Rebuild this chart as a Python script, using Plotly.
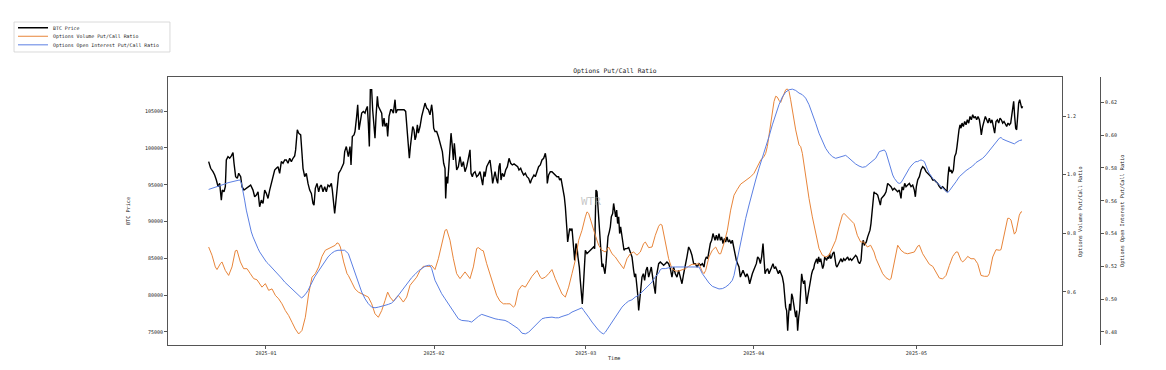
import pandas as pd
import plotly.graph_objects as go

BASE_DATE = pd.Timestamp("2025-01-01")

# ---- BTC price (days since 2025-01-01, USD) ----
btc_day = [-10.58,-10.21,-9.78,-9.47,-9.16,-8.85,-8.55,-8.24,-8.06,-7.75,-7.50,-7.32,-7.01,-6.70,-6.39,-6.09,-5.90,-5.60,-5.29,-5.04,-4.67,-4.43,-4.06,-3.63,-3.20,-2.83,-2.40,-2.09,-1.78,-1.47,-1.17,-0.86,-0.55,-0.24,0.06,0.37,0.68,0.99,1.29,1.60,1.91,2.22,2.52,2.83,3.14,3.45,3.75,4.06,4.37,4.68,4.98,5.29,5.47,5.78,6.03,6.40,6.64,6.83,7.14,7.44,7.75,8.06,8.37,8.67,8.86,9.10,9.41,9.72,9.96,10.21,10.52,10.83,11.13,11.44,11.75,12.06,12.24,12.49,12.67,12.86,13.10,13.41,13.78,14.02,14.33,14.52,14.82,
15.19,15.50,15.69,15.93,16.24,16.42,16.73,16.92,17.16,17.35,17.66,17.96,18.27,18.45,18.70,18.88,19.07,19.25,19.50,19.68,19.87,20.11,20.30,20.55,20.73,21.04,21.35,21.53,21.78,21.96,22.27,22.45,22.70,23.01,23.19,23.50,23.81,23.99,24.24,24.54,24.85,25.16,25.47,25.77,26.02,26.27,26.45,26.64,26.88,27.07,27.31,27.50,27.68,27.93,28.11,28.42,28.73,29.03,29.34,29.65,29.96,30.26,30.57,30.75,30.94,31.18,31.49,31.80,32.11,32.29,32.54,32.78,33.03,33.15,33.34,33.52,33.77,33.95,34.14,34.38,34.57,34.75,35.00,35.18,35.49,35.80,36.11,36.41,36.72,37.03,37.34,37.64,37.83,38.07,38.26,38.57,38.87,39.18,39.49,39.80,39.98,40.23,40.41,40.72,41.03,41.33,41.64,41.82,42.07,42.26,42.56,42.75,42.99,43.18,43.36,43.61,43.92,44.22,44.53,44.84,45.15,45.45,45.76,46.07,46.44,46.68,46.99,
47.23,47.54,47.85,48.15,48.46,48.77,48.95,49.20,49.44,49.69,50.00,50.30,50.61,50.92,51.23,51.54,51.72,51.90,52.15,52.46,52.76,53.07,53.38,53.69,53.99,54.18,54.43,54.61,54.80,55.04,55.23,55.41,55.53,55.66,55.84,56.03,56.27,56.46,56.64,56.82,56.95,57.19,57.38,57.56,57.81,57.99,58.18,58.36,58.55,58.73,58.92,59.22,59.53,59.84,60.15,60.45,60.64,60.76,60.88,61.07,61.25,61.44,61.62,61.81,61.99,62.17,62.36,62.54,62.73,62.91,63.10,63.34,63.53,63.71,63.96,64.14,64.33,64.51,64.70,64.88,65.07,65.25,65.43,65.68,65.86,66.05,66.30,66.60,66.91,67.09,67.28,67.53,67.83,68.02,68.20,68.39,68.57,68.76,68.94,69.12,69.37,69.62,69.86,70.11,70.35,70.60,70.85,71.09,71.34,71.58,71.83,72.01,72.20,72.45,72.75,73.06,73.37,73.67,73.98,74.29,74.60,74.90,75.21,75.52,75.83,76.13,76.44,76.75,77.06,77.36,77.67,77.98,78.29,78.59,78.90,79.21,79.52,
79.89,80.20,80.51,80.81,81.00,81.24,81.49,81.73,81.98,82.23,82.47,82.66,82.84,83.09,83.33,83.58,83.83,84.07,84.32,84.56,84.81,85.06,85.30,85.55,85.79,86.04,86.29,86.53,86.78,87.02,87.27,87.52,87.76,88.01,88.25,88.50,88.75,88.99,89.24,89.48,89.73,89.98,90.22,90.47,90.71,90.96,91.21,91.45,91.70,91.88,92.07,92.31,92.56,92.81,93.05,93.30,93.54,93.79,94.04,94.28,94.53,94.77,95.02,95.27,95.51,95.70,95.88,96.06,96.25,96.43,96.62,96.80,96.99,97.17,97.36,97.54,97.73,97.91,98.09,98.28,98.46,98.65,98.83,99.02,99.20,99.39,99.57,99.75,99.94,100.12,100.31,100.49,100.68,100.86,101.05,101.23,101.42,101.60,101.78,101.97,102.15,102.34,102.52,102.71,102.89,103.08,103.26,103.44,103.63,103.81,104.00,104.18,104.37,104.55,104.80,104.98,105.17,105.35,105.60,105.84,106.09,106.33,106.58,106.83,107.07,107.32,107.56,107.81,108.06,108.30,108.55,108.79,109.04,109.29,109.53,109.78,110.02,110.21,110.39,110.58,110.76,111.01,111.25,111.44,111.62,111.81,111.99,112.18,112.36,
112.55,112.86,113.17,113.35,113.53,113.78,114.09,114.40,114.70,115.01,115.32,115.63,115.93,116.24,116.55,116.86,117.16,117.35,117.59,117.84,118.09,118.39,118.70,119.01,119.32,119.62,119.81,119.99,120.24,120.55,120.85,121.16,121.47,121.78,122.08,122.39,122.70,123.01,123.31,123.62,123.93,124.24,124.54,124.85,125.16,125.47,125.65,125.83,126.02,126.20,126.39,126.57,126.82,127.06,127.31,127.49,127.68,127.86,128.05,128.23,128.42,128.66,128.91,129.16,129.40,129.65,129.89,130.14,130.39,130.63,130.88,131.12,131.37,131.62,131.80,131.98,132.23,132.48,132.72,132.97,133.21,133.46,133.71,133.95,134.20,134.44,134.69,134.94,135.18,135.43,135.67,135.92,136.17,136.41,136.66,136.90,137.15,137.40,137.58,137.77,137.95,138.13,138.32,138.50,138.69,138.87,139.06,139.24,139.43,139.61]

btc_price = [98150,97240,96780,96330,95650,94740,95190,92920,94280,94050,94740,98370,98830,98600,98920,99370,97920,96100,95870,96560,96100,94740,94280,94510,94740,94960,94280,93370,93600,94050,92010,92920,92460,94280,93830,93140,94280,95190,96100,97010,97240,97460,96560,98150,97920,98370,98370,97920,98600,98150,98600,98920,99740,102470,102010,101780,99280,97240,96100,96560,95190,94280,93830,92460,92240,94510,95190,94050,94740,94960,94050,94740,94050,94960,94740,95190,94280,91780,91100,92460,94740,96560,97010,97460,97920,99510,100190,
98830,100190,97690,101560,101780,102240,104290,105880,102470,103150,104740,104970,104740,105190,105650,103380,100190,107920,107920,105190,103830,101330,104290,107010,105650,105190,104740,102920,104060,102920,103380,101560,104290,105190,105190,104740,106560,104740,105190,105190,105190,105190,105190,104970,102920,100650,98600,100190,101560,102920,102470,101100,101560,103150,102010,102920,104290,105190,106100,105420,105190,104510,105880,104740,102690,102240,102240,101560,100650,99970,99510,97920,97240,93140,96100,95190,97460,99740,102010,100190,98370,100650,98600,97010,97460,98830,97460,98150,96780,97460,98600,99740,96560,96100,96560,96780,96100,96330,96780,95650,94960,96780,96100,97460,97920,98370,96560,95190,96100,96780,95650,95190,97460,97920,95650,96560,96100,97010,97460,98600,97920,97690,97830,97690,97460,97010,97240,
96780,96330,96560,96100,95870,95190,95650,96100,96330,96100,96780,97460,97690,98370,98600,99280,98370,95190,96330,96780,96780,96560,96330,96100,96100,95650,95870,95190,94510,93370,92010,90640,88830,87230,88600,89050,88830,89050,87460,85190,84730,87010,86550,85190,83820,82000,80640,78820,81100,84730,86100,85640,85870,86100,86320,86550,86320,91550,94280,94050,92010,90640,88830,85640,83820,84280,83370,82910,84280,86100,87920,88600,89280,90640,91100,92460,91550,90640,91550,89730,90640,88370,89280,87920,86780,86100,86320,86320,86460,86100,85640,85190,83370,82460,82910,81550,80190,77910,79280,80640,82460,82910,82000,83370,83820,82460,83370,83820,82460,81550,80190,82460,83370,84280,84510,84280,84050,84280,84510,84280,83600,82460,83820,82910,82460,83370,82460,81550,82910,83820,85190,86550,86100,85420,84280,84280,83820,
84280,84050,84280,83820,84730,85190,84960,86100,87010,87460,88370,87920,87460,88140,87460,88370,87460,87920,87010,87690,87230,87920,87230,87460,87010,87460,86550,85190,84730,84280,83820,82460,82910,83370,82910,82460,82910,82460,81550,82460,82910,83370,83820,84280,85190,84960,84280,85190,87010,85190,82910,83370,83600,82910,83370,83820,84280,83600,83820,83370,82910,83370,82910,82460,81550,79730,78370,77910,75180,77460,78820,77910,80190,79730,78820,77910,77000,77910,75180,77000,77910,80640,82910,82000,81550,82000,80640,78820,79730,80640,81550,82460,82910,83370,83600,84280,84730,84960,84280,85190,84510,84960,84280,83600,84050,85190,84960,84730,85190,84960,85640,84960,85190,85640,85870,84730,84050,83820,84280,84730,84960,84510,84960,84730,84960,85190,84730,84960,84730,84960,85190,85420,85190,84510,84280,84730,87010,87460,86780,87010,87230,87920,88370,88830,89730,91100,92460,94050,93830,
93830,93600,92920,92240,93140,93370,93600,94050,95190,94960,94740,94280,94510,94280,94050,94280,93140,94740,94280,95190,94740,94960,95190,94740,94960,94280,93370,94740,95650,96100,97010,97460,97240,96780,96560,96330,96100,95650,95650,95420,95190,94740,94510,94740,94510,94280,94050,96100,97460,96780,97010,96560,97010,98830,99280,100190,101560,102470,103150,102690,103380,102920,103600,103150,103830,103380,104290,103830,104510,104060,104290,103830,104290,103830,102920,101780,102920,103600,104290,103830,103380,104060,103380,103830,102920,102010,103600,103830,103380,104060,103830,103380,103600,103150,102920,103380,103150,103380,104290,105880,106330,104290,102690,102470,104510,106100,106560,105880,105420,105650]

# ---- Options volume put/call ratio ----
vol_day = [-10.58,-9.96,-9.35,-9.04,-8.42,-8.12,-7.50,-6.89,-6.27,-5.66,-5.35,-4.73,-4.12,-3.50,-2.89,-2.27,-1.66,-1.04,-0.74,-0.12,0.49,1.11,1.72,2.34,2.95,3.57,4.18,4.80,5.41,6.03,6.64,7.26,7.87,8.49,9.10,9.72,10.33,10.95,11.56,12.18,12.79,13.10,13.41,13.72,14.33,14.95,
15.19,15.81,16.42,17.04,17.66,18.27,18.88,19.50,20.11,20.73,21.35,21.96,22.45,22.88,23.50,24.11,24.42,25.34,25.96,26.57,27.19,27.80,28.42,29.03,29.65,30.26,30.57,31.18,31.80,32.41,33.03,33.34,33.95,34.57,35.18,35.80,36.41,36.72,37.64,38.26,38.87,39.18,39.80,40.10,40.72,41.33,41.95,42.56,43.18,43.79,44.41,45.02,45.64,45.95,46.56,
47.23,47.85,48.46,49.08,50.00,50.61,50.92,51.54,52.15,52.76,53.38,53.99,54.61,55.23,55.84,56.46,57.07,57.69,58.30,58.92,59.22,59.53,60.15,60.76,61.38,61.99,62.61,63.22,63.84,64.45,65.07,65.99,66.60,67.22,67.83,68.45,69.06,69.68,69.99,70.60,71.22,71.83,72.45,72.75,73.06,73.67,74.29,74.90,75.52,76.13,76.75,77.36,77.98,78.59,79.21,
79.89,80.51,80.81,81.12,81.73,82.35,82.97,83.58,83.89,84.50,85.12,85.73,86.35,86.96,87.58,88.19,88.81,89.42,90.04,90.65,91.27,91.88,92.19,92.50,92.81,93.11,93.42,93.73,94.04,94.34,94.65,94.96,95.27,95.57,95.88,96.19,96.50,96.80,97.11,97.73,98.34,98.65,98.96,99.57,100.19,100.80,101.42,102.03,102.65,103.26,103.88,104.49,105.11,105.72,106.34,106.64,107.26,107.87,108.49,109.10,109.72,110.33,110.95,111.56,112.18,
112.55,113.17,113.78,114.40,115.01,115.32,115.93,116.55,117.16,117.78,118.39,119.01,119.62,120.24,120.55,121.16,121.78,122.39,123.01,123.62,124.24,124.85,125.47,126.08,126.70,127.31,127.62,128.23,128.54,129.16,129.46,130.08,130.69,131.31,131.92,132.54,133.15,133.46,134.08,134.69,135.31,135.61,136.23,136.84,137.15,137.46,138.07,138.38,138.99,139.30,139.49]

vol_ratio = [0.753,0.725,0.685,0.676,0.696,0.702,0.673,0.656,0.685,0.740,0.742,0.702,0.679,0.679,0.662,0.645,0.641,0.622,0.616,0.628,0.605,0.610,0.588,0.576,0.559,0.536,0.519,0.496,0.473,0.456,0.468,0.513,0.593,0.650,0.662,0.685,0.721,0.742,0.748,0.753,0.759,0.767,0.765,0.753,0.702,0.662,
0.656,0.633,0.610,0.599,0.593,0.588,0.582,0.559,0.525,0.513,0.536,0.570,0.599,0.582,0.568,0.582,0.588,0.565,0.582,0.622,0.637,0.650,0.673,0.687,0.687,0.687,0.690,0.676,0.713,0.765,0.810,0.813,0.776,0.713,0.662,0.645,0.662,0.668,0.645,0.685,0.748,0.751,0.742,0.740,0.696,0.662,0.628,0.588,0.568,0.559,0.559,0.559,0.548,0.553,0.605,
0.622,0.616,0.633,0.653,0.673,0.650,0.645,0.650,0.662,0.676,0.645,0.616,0.593,0.582,0.616,0.662,0.708,0.776,0.810,0.856,0.873,0.868,0.828,0.793,0.759,0.742,0.736,0.753,0.730,0.719,0.702,0.679,0.713,0.730,0.736,0.725,0.736,0.765,0.770,0.751,0.753,0.793,0.824,0.831,0.828,0.776,0.713,0.679,0.671,0.671,0.676,0.679,0.687,0.694,0.694,
0.696,0.668,0.662,0.673,0.719,0.742,0.753,0.730,0.730,0.765,0.810,0.879,0.930,0.950,0.968,0.976,0.984,0.993,1.005,1.028,1.050,1.062,1.073,1.096,1.136,1.176,1.222,1.250,1.268,1.265,1.254,1.247,1.262,1.279,1.290,1.293,1.285,1.256,1.222,1.153,1.102,1.096,1.073,0.993,0.919,0.856,0.799,0.748,0.725,0.719,0.725,0.748,0.776,0.822,0.862,0.868,0.856,0.847,0.833,0.793,0.770,0.770,0.753,0.759,0.736,
0.713,0.687,0.662,0.648,0.641,0.645,0.696,0.759,0.742,0.733,0.730,0.733,0.736,0.756,0.759,0.730,0.710,0.694,0.687,0.668,0.647,0.644,0.656,0.690,0.721,0.736,0.736,0.708,0.702,0.713,0.721,0.713,0.713,0.696,0.656,0.653,0.653,0.662,0.719,0.744,0.742,0.744,0.799,0.851,0.851,0.845,0.797,0.805,0.862,0.873,0.873]

# ---- Options open interest put/call ratio ----
oi_day = [-10.58,-10.09,-9.47,-8.86,-8.24,-7.63,-7.01,-6.40,-5.78,-5.17,-4.86,-4.55,-4.24,-3.94,-3.63,-3.32,-3.01,-2.71,-2.40,-2.09,-1.78,-1.47,-1.17,-0.86,-0.55,-0.24,0.06,0.37,0.99,1.60,2.22,2.83,3.45,4.06,4.68,5.29,5.91,6.21,6.52,6.83,7.14,7.44,7.75,8.06,8.37,8.98,9.59,10.21,10.82,11.44,12.05,12.67,13.28,13.90,14.51,
15.19,15.81,16.42,17.04,17.66,18.27,18.88,19.50,20.11,20.73,21.35,21.96,22.58,23.19,23.81,24.42,25.04,25.65,26.27,26.88,27.50,28.11,28.73,29.34,29.96,30.26,30.57,30.88,31.18,31.80,32.41,33.03,33.64,34.26,34.88,35.49,36.11,36.72,37.34,37.95,38.57,39.18,39.80,40.41,41.03,41.64,42.26,42.87,43.49,44.10,44.71,45.33,45.94,46.56,
47.23,47.85,48.46,49.08,49.69,50.31,50.92,51.54,52.15,52.77,53.38,53.99,54.61,55.23,55.84,56.46,57.07,57.69,58.30,58.61,58.92,59.53,60.15,60.76,61.38,61.99,62.30,62.61,63.22,63.84,64.45,65.07,65.68,66.30,66.91,67.53,68.14,68.76,69.37,69.99,70.60,71.22,71.83,72.45,72.75,73.06,73.68,74.29,74.91,75.52,76.14,76.75,77.37,77.98,78.60,79.21,
79.89,80.51,81.12,81.74,82.35,82.97,83.58,84.20,84.81,85.43,86.04,86.35,86.66,86.96,87.27,87.89,88.50,89.12,89.73,90.35,90.96,91.58,92.19,92.81,93.42,94.04,94.65,95.27,95.88,96.50,97.11,97.73,98.34,98.96,99.57,100.19,100.80,101.42,102.03,102.65,103.26,103.88,104.49,105.11,105.72,106.34,106.95,107.26,107.57,108.18,108.80,109.41,110.03,110.64,111.26,111.87,112.49,
113.17,113.78,114.09,114.40,114.70,115.01,115.32,115.63,115.93,116.24,116.55,116.86,117.16,117.47,117.78,118.09,118.39,118.70,119.01,119.32,119.62,119.93,120.24,120.55,120.85,121.16,121.47,121.65,121.78,122.08,122.39,123.01,123.62,124.24,124.85,125.47,125.77,126.08,126.70,127.31,127.93,128.54,129.16,129.77,130.39,131.00,131.62,132.23,132.84,133.46,134.08,134.69,135.31,135.61,135.92,136.54,137.15,137.77,138.07,138.38,138.99,139.49]

oi_ratio = [0.5669,0.5674,0.5680,0.5686,0.5694,0.5702,0.5710,0.5716,0.5722,0.5727,0.5727,0.5710,0.5665,0.5604,0.5543,0.5492,0.5451,0.5410,0.5380,0.5353,0.5329,0.5308,0.5288,0.5272,0.5257,0.5241,0.5227,0.5217,0.5196,0.5176,0.5151,0.5129,0.5104,0.5084,0.5064,0.5043,0.5023,0.5013,0.5008,0.5013,0.5023,0.5037,0.5053,0.5074,0.5094,0.5135,0.5166,0.5196,0.5227,0.5257,0.5278,0.5292,0.5298,0.5298,0.5298,
0.5278,0.5217,0.5155,0.5094,0.5043,0.5002,0.4972,0.4951,0.4947,0.4951,0.4955,0.4962,0.4968,0.4976,0.4996,0.5023,0.5049,0.5078,0.5104,0.5131,0.5151,0.5172,0.5186,0.5200,0.5206,0.5206,0.5186,0.5145,0.5115,0.5074,0.5033,0.5002,0.4972,0.4941,0.4907,0.4880,0.4870,0.4870,0.4866,0.4860,0.4880,0.4894,0.4907,0.4900,0.4890,0.4886,0.4880,0.4876,0.4874,0.4870,0.4860,0.4845,0.4833,0.4819,
0.4792,0.4788,0.4798,0.4819,0.4839,0.4860,0.4880,0.4886,0.4890,0.4890,0.4886,0.4886,0.4894,0.4900,0.4907,0.4921,0.4931,0.4937,0.4947,0.4931,0.4915,0.4890,0.4860,0.4833,0.4809,0.4792,0.4788,0.4798,0.4829,0.4860,0.4894,0.4921,0.4951,0.4972,0.4988,0.4996,0.5013,0.5023,0.5043,0.5064,0.5084,0.5104,0.5135,0.5159,0.5180,0.5186,0.5186,0.5192,0.5196,0.5196,0.5196,0.5196,0.5200,0.5200,0.5200,0.5200,
0.5196,0.5155,0.5125,0.5098,0.5078,0.5068,0.5062,0.5064,0.5074,0.5090,0.5115,0.5145,0.5196,0.5247,0.5308,0.5400,0.5492,0.5574,0.5655,0.5727,0.5798,0.5859,0.5920,0.5992,0.6063,0.6131,0.6186,0.6233,0.6263,0.6277,0.6281,0.6273,0.6257,0.6247,0.6226,0.6186,0.6135,0.6073,0.6012,0.5961,0.5920,0.5890,0.5869,0.5859,0.5865,0.5873,0.5877,0.5869,0.5859,0.5839,0.5824,0.5812,0.5804,0.5808,0.5824,0.5839,0.5859,
0.5900,0.5906,0.5910,0.5894,0.5859,0.5818,0.5788,0.5757,0.5737,0.5723,0.5710,0.5706,0.5710,0.5727,0.5747,0.5767,0.5784,0.5798,0.5812,0.5824,0.5833,0.5839,0.5839,0.5845,0.5849,0.5845,0.5839,0.5824,0.5808,0.5788,0.5767,0.5737,0.5716,0.5696,0.5676,0.5655,0.5649,0.5661,0.5686,0.5716,0.5747,0.5767,0.5784,0.5798,0.5812,0.5833,0.5845,0.5859,0.5880,0.5906,0.5931,0.5951,0.5982,0.5986,0.5976,0.5967,0.5959,0.5951,0.5947,0.5955,0.5967,0.5971]

price_ticks = [75000, 80000, 85000, 90000, 95000, 100000, 105000]
vol_ticks = [0.6, 0.8, 1.0, 1.2]
oi_ticks = [0.48, 0.50, 0.52, 0.54, 0.56, 0.58, 0.60, 0.62]
x_range_days = [-18.08, 146.86]


def to_dates(days):
    return BASE_DATE + pd.to_timedelta(days, unit="D")


FONT = "DejaVu Sans Mono"
TXT = "#222222"
AX = "#555555"

fig = go.Figure()
fig.add_trace(go.Scatter(x=to_dates(btc_day), y=btc_price, name="BTC Price",
                         mode="lines", line=dict(color="black", width=1.4), yaxis="y",
                         legend="legend"))
fig.add_trace(go.Scatter(x=to_dates(vol_day), y=vol_ratio, name="Options Volume Put/Call Ratio",
                         mode="lines", line=dict(color="#e8853a", width=1), yaxis="y2",
                         legend="legend2"))
fig.add_trace(go.Scatter(x=to_dates(oi_day), y=oi_ratio, name="Options Open Interest Put/Call Ratio",
                         mode="lines", line=dict(color="#5b7fe3", width=1), yaxis="y3",
                         legend="legend3"))

tickfont = dict(family=FONT, size=5, color=TXT)
legfont = dict(family=FONT, size=4.9, color=TXT)


def leg(y):
    return dict(x=-0.1663, y=y, xanchor="left", yanchor="middle", font=legfont,
                borderwidth=0, bgcolor="rgba(0,0,0,0)", itemwidth=30)


fig.update_layout(
    width=1166, height=370,
    margin=dict(l=168, r=66, t=77, b=25, autoexpand=False),
    paper_bgcolor="white", plot_bgcolor="white",
    showlegend=True,
    legend=leg(1.184), legend2=leg(1.152), legend3=leg(1.120),
    title=dict(text="Options Put/Call Ratio", x=0.5274, y=0.808, xanchor="center", yanchor="middle",
               font=dict(family=FONT, size=6.3, color=TXT)),
    xaxis=dict(type="date", domain=[0, 0.9592],
               range=list(to_dates(x_range_days)),
               tickformat="%Y-%m", dtick="M1", tick0="2025-01-01",
               ticks="outside", ticklen=3, tickcolor=AX, tickfont=tickfont,
               showline=True, linecolor=AX, linewidth=1, mirror=True,
               showgrid=False, zeroline=False),
    yaxis=dict(range=[73227, 109646], tickvals=price_ticks, tickformat="d",
               ticks="outside", ticklen=3, tickcolor=AX, tickfont=tickfont,
               showline=True, linecolor=AX, linewidth=1, mirror=True,
               showgrid=False, zeroline=False),
    yaxis2=dict(range=[0.4183, 1.3338], tickvals=vol_ticks, tickformat=".1f",
                overlaying="y", side="right", anchor="x",
                ticks="outside", ticklen=3, tickcolor=AX, tickfont=tickfont,
                showline=False, showgrid=False, zeroline=False),
    yaxis3=dict(range=[0.472, 0.6355], tickvals=oi_ticks, tickformat=".2f",
                overlaying="y", side="right", anchor="free", position=1.0,
                ticks="outside", ticklen=3, tickcolor=AX, tickfont=tickfont,
                showline=True, linecolor=AX, linewidth=1,
                showgrid=False, zeroline=False),
)

# legend frame (decoration around the three legend entries)
fig.add_shape(type="rect", xref="paper", yref="paper", x0=-0.1652, x1=0.0021, y0=1.0933, y1=1.2052,
              line=dict(color="#d0d0d0", width=0.8), fillcolor="rgba(255,255,255,0)", layer="below")

lab = dict(family=FONT, size=5.2, color=TXT)
fig.add_annotation(text="BTC Price", xref="paper", yref="paper", x=-0.0429, y=0.5,
                   textangle=-90, showarrow=False, font=lab, xanchor="center", yanchor="middle")
fig.add_annotation(text="Time", xref="paper", yref="paper", x=0.4796, y=-0.0485,
                   showarrow=False, font=lab, xanchor="center", yanchor="middle")
fig.add_annotation(text="Options Volume Put/Call Ratio", xref="paper", yref="paper", x=0.9785, y=0.5,
                   textangle=-90, showarrow=False, font=lab, xanchor="center", yanchor="middle")
fig.add_annotation(text="Options Open Interest Put/Call Ratio", xref="paper", yref="paper", x=1.0236, y=0.5,
                   textangle=-90, showarrow=False, font=lab, xanchor="center", yanchor="middle")
fig.add_annotation(text="WTR", xref="paper", yref="paper", x=0.454, y=0.537,
                   showarrow=False, font=dict(family=FONT, size=11, color="rgba(150,150,150,0.55)"),
                   xanchor="center", yanchor="middle")

fig.write_html("out.html", config={"displayModeBar": False},
               post_script="document.body.style.margin='0';document.body.style.overflow='hidden';")
